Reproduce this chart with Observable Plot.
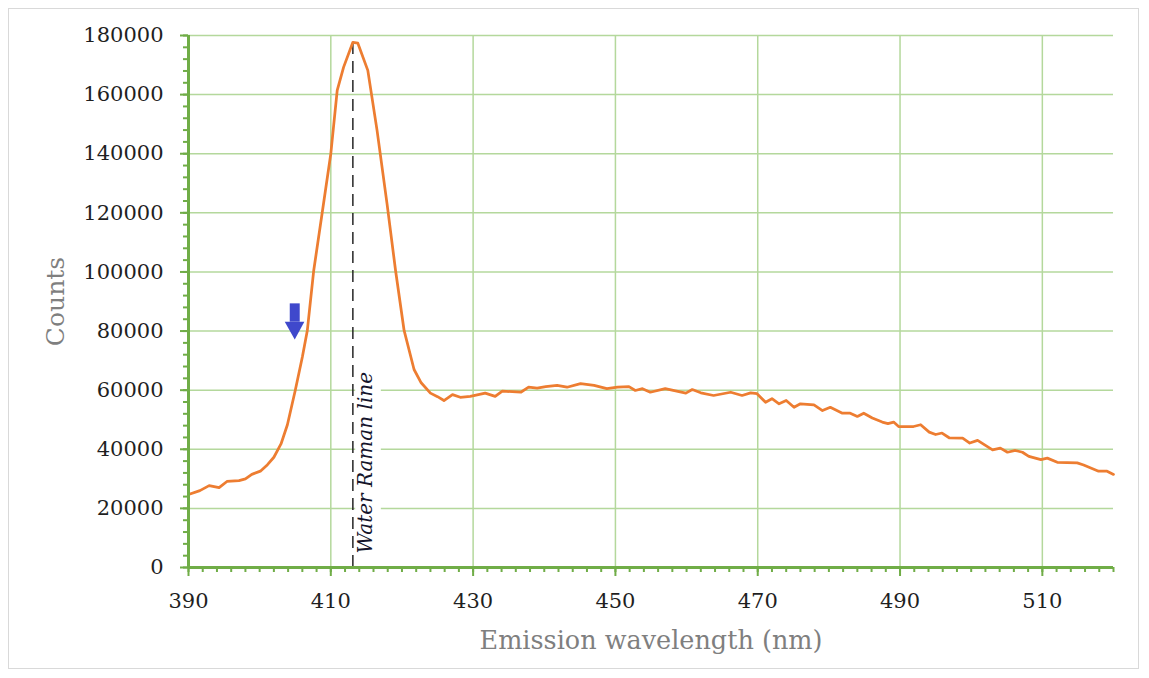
<!DOCTYPE html>
<html>
<head>
<meta charset="utf-8">
<script src="https://cdn.jsdelivr.net/npm/d3@7"></script>
<script src="https://cdn.jsdelivr.net/npm/@observablehq/plot@0.6"></script>
<style>
  html, body { margin: 0; padding: 0; background: #fff; }
  #wrap { position: relative; width: 1149px; height: 678px; }
  #frame { position: absolute; left: 8px; top: 8px; width: 1131px; height: 661px; border: 1px solid #d9d9d9; box-sizing: border-box; }
  #chart { position: absolute; left: 0; top: 0; }
  #chart svg { display: block; overflow: visible; }
</style>
</head>
<body>
<div id="wrap"><div id="frame"></div><div id="chart"></div></div>
<script>
// ---- data ----
const wavelength = [390, 391.6, 392.9, 394.3, 395.4, 397.1, 398, 398.9, 400.1, 401.1, 402, 403,
  403.9, 405, 406, 406.7, 407.6, 408.8, 410, 410.9, 411.8, 413.1, 413.8, 415.2, 416.5, 417.9,
  419.1, 420.3, 421.7, 422.7, 424, 425, 425.9, 427.1, 428.2, 429.6, 431.7, 433.1, 434.1, 436.7,
  437.8, 439, 440.2, 441.8, 443.2, 445.1, 447, 448.8, 450.3, 451.9, 452.8, 453.8, 454.9, 457,
  459.9, 460.8, 462, 463.8, 466.2, 467.8, 469, 469.9, 471.1, 472, 473, 474, 475.1, 476, 477.9,
  479.1, 480.2, 481.9, 483, 484, 484.9, 486.1, 487.5, 488.3, 489.1, 489.8, 491.9, 492.9, 494.1,
  495, 495.9, 496.9, 498.8, 499.8, 500.9, 503, 504.1, 505.1, 506.2, 507.2, 508.1, 509.8, 510.7,
  512.1, 514.9, 515.8, 517.9, 519.1, 520];
const counts = [24700, 26000, 27700, 27000, 29100, 29400, 30000, 31500, 32600, 34800, 37300, 41800,
  48300, 59900, 71200, 80200, 100500, 120200, 140000, 161400, 169300, 177700, 177400, 168200, 147900, 123100,
  100500, 80200, 67000, 62500, 59000, 57800, 56500, 58500, 57600, 57900, 59000, 57900, 59700, 59300,
  61000, 60700, 61200, 61600, 61000, 62200, 61600, 60500, 61000, 61200, 59900, 60500, 59300, 60500,
  59000, 60200, 59100, 58200, 59300, 58200, 59100, 58800, 55900, 57100, 55400, 56500, 54200, 55400, 55000,
  53100, 54200, 52200, 52200, 51100, 52200, 50600, 49200, 48700, 49200, 47700, 47700, 48300, 45800,
  45000, 45500, 43900, 43800, 42100, 43000, 39800, 40400, 39000, 39600, 39000, 37600, 36500, 37000,
  35600, 35400, 34700, 32600, 32600, 31500];

const xTicks = [390, 410, 430, 450, 470, 490, 510];
const yTicks = [0, 20000, 40000, 60000, 80000, 100000, 120000, 140000, 160000, 180000];
const xMinor = d3.range(390, 521, 2);
const yMinor = d3.range(0, 180001, 4000);

const ramanWavelength = 413.1;
const ramanLabel = "Water Raman line";
const ramanLabelPos = [{x: 415.8, y: 4700}];
const ramanBox = [{x1: 413.5, x2: 417.1, y1: 2400, y2: 69000}];

// blue arrow marker
const arrowShaft = [{x1: 404.3, x2: 405.7, y1: 83000, y2: 89200}];
const arrowHeadX = [403.6, 405.0, 406.35];
const arrowHeadTip = [83000, 77000, 83000];
const arrowHeadBase = [83000, 83000, 83000];

const xLabel = "Emission wavelength (nm)";
const yLabel = "Counts";

// ---- chart ----
const series = wavelength.map((w, i) => ({w, c: counts[i]}));
const green = "#70ad47";
const gridGreen = "#b4d89c";
const serif = "'DejaVu Serif', serif";

const chart = Plot.plot({
  width: 1149,
  height: 678,
  marginLeft: 188,
  marginRight: 36,
  marginTop: 35,
  marginBottom: 111,
  x: {domain: [390, 520]},
  y: {domain: [0, 180000]},
  style: {background: "transparent", fontFamily: serif},
  marks: [
    Plot.gridX({ticks: xTicks.filter(d => d !== 390), stroke: gridGreen, strokeOpacity: 1, strokeWidth: 1.5}),
    Plot.gridY({ticks: yTicks.filter(d => d !== 0), stroke: gridGreen, strokeOpacity: 1, strokeWidth: 1.5}),
    Plot.rect(ramanBox, {x1: "x1", x2: "x2", y1: "y1", y2: "y2", fill: "white"}),
    Plot.ruleX([ramanWavelength], {y1: 0, y2: 180000, stroke: "#262626", strokeWidth: 1.5, strokeDasharray: "12,7"}),
    Plot.line(series, {x: "w", y: "c", stroke: "#ed7d31", strokeWidth: 2.75, strokeLinejoin: "round"}),
    Plot.text(ramanLabelPos, {x: "x", y: "y", text: () => ramanLabel, rotate: -90, textAnchor: "start",
      lineAnchor: "bottom", fontSize: 20, fontStyle: "italic", fontFamily: serif, fill: "#14142b"}),
    Plot.rect(arrowShaft, {x1: "x1", x2: "x2", y1: "y1", y2: "y2", fill: "#3f48cc"}),
    Plot.areaY(arrowHeadX.map((x, i) => ({x, t: arrowHeadTip[i], b: arrowHeadBase[i]})), {x: "x", y1: "t", y2: "b", fill: "#3f48cc"}),
    // axis lines
    Plot.ruleX([390], {stroke: green, strokeWidth: 3}),
    Plot.ruleY([0], {stroke: green, strokeWidth: 3}),
    // ticks
    Plot.axisY({ticks: yMinor, tickSize: 5, text: null, stroke: green, strokeWidth: 2}),
    Plot.axisY({ticks: yTicks, tickSize: 8, text: null, stroke: green, strokeWidth: 2}),
    Plot.axisX({ticks: xMinor, tickSize: 5, text: null, stroke: green, strokeWidth: 2}),
    Plot.axisX({ticks: xTicks, tickSize: 9, text: null, stroke: green, strokeWidth: 2}),
    // tick labels
    Plot.axisY({ticks: yTicks, tickSize: 0, tickPadding: 25, tickFormat: d => String(d), fontSize: 21,
      fontFamily: serif, fill: "#1f1f1f", label: null}),
    Plot.axisX({ticks: xTicks, tickSize: 0, tickPadding: 26, tickFormat: d => String(d), fontSize: 21,
      fontFamily: serif, fill: "#1f1f1f", label: null}),
    // axis titles
    Plot.text([yLabel], {frameAnchor: "left", dx: -133, rotate: -90, textAnchor: "middle", lineAnchor: "middle",
      fontSize: 25, fontFamily: serif, fill: "#7f7f7f"}),
    Plot.text([xLabel], {frameAnchor: "bottom", dy: 73, textAnchor: "middle", lineAnchor: "middle",
      fontSize: 25.5, fontFamily: serif, fill: "#7f7f7f"})
  ]
});
document.getElementById("chart").appendChild(chart);
</script>
</body>
</html>
